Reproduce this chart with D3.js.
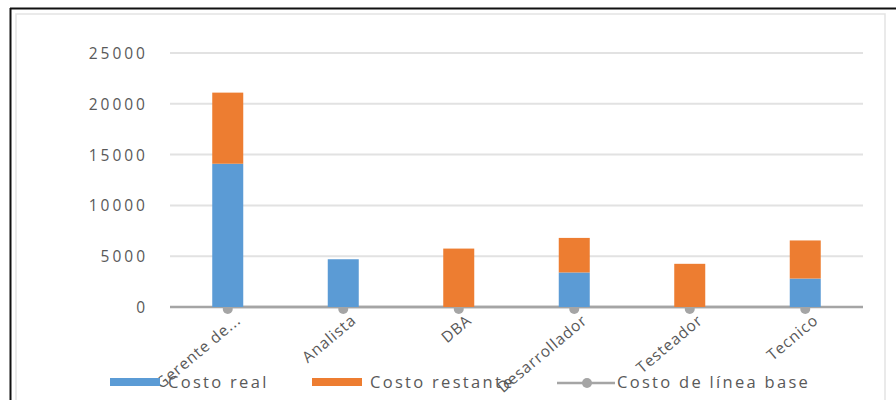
<!DOCTYPE html>
<html>
<head>
<meta charset="utf-8">
<script src="https://cdn.jsdelivr.net/npm/d3@7"></script>
<style>
  html, body { margin: 0; padding: 0; background: #fff; }
  svg { display: block; }
  text { font-family: "Open Sans", "Liberation Sans", sans-serif; fill: #595959; }
</style>
</head>
<body>
<svg id="chart" width="896" height="400"></svg>
<script>
const categories = ["Gerente de...", "Analista", "DBA", "Desarrollador", "Testeador", "Tecnico"];
const costoReal = [14100, 4700, 0, 3400, 0, 2800];
const costoRestante = [7000, 0, 5750, 3400, 4250, 3750];
const costoLineaBase = [0, 0, 0, 0, 0, 0];
const yTicks = [0, 5000, 10000, 15000, 20000, 25000];
const seriesNames = ["Costo real", "Costo restante", "Costo de línea base"];
const colors = ["#5b9bd5", "#ed7d31", "#a5a5a5"];

const svg = d3.select("#chart");
const W = 896, H = 400;

// frame
svg.append("rect").attr("x", 16).attr("y", 14).attr("width", 869).attr("height", 400)
  .attr("fill", "#fff").attr("stroke", "#e3e3e3").attr("stroke-width", 1.5);
svg.append("line").attr("x1", 10).attr("x2", W).attr("y1", 8.5).attr("y2", 8.5)
  .attr("stroke", "#111").attr("stroke-width", 2);
svg.append("line").attr("x1", 10.5).attr("x2", 10.5).attr("y1", 8).attr("y2", H)
  .attr("stroke", "#111").attr("stroke-width", 2);

const plot = { left: 170, right: 863, top: 53, bottom: 307 };

const x = d3.scaleBand().domain(categories).range([plot.left, plot.right]).paddingInner(0).paddingOuter(0);
const y = d3.scaleLinear().domain([0, 25000]).range([plot.bottom, plot.top]);
const barW = 31;

// gridlines
svg.append("g").selectAll("line").data(yTicks.filter(t => t > 0)).join("line")
  .attr("x1", plot.left).attr("x2", plot.right)
  .attr("y1", d => y(d)).attr("y2", d => y(d))
  .attr("stroke", "#e2e2e2").attr("stroke-width", 2);

// y axis labels
const yAxis = d3.axisLeft(y).tickValues(yTicks).tickSize(0).tickPadding(0).tickFormat(d3.format("d"));
const yg = svg.append("g").attr("transform", `translate(${plot.left - 22},0)`).call(yAxis);
yg.select(".domain").remove();
yg.selectAll("text").style("font-size", "15.5px").style("letter-spacing", "3px")
  .attr("fill", "#595959").attr("dy", "0.35em");

// baseline series (line + markers), drawn under bars
const cx = d => x(d) + x.bandwidth() / 2;
svg.append("line").attr("x1", plot.left).attr("x2", plot.right)
  .attr("y1", y(0)).attr("y2", y(0)).attr("stroke", "#a5a5a5").attr("stroke-width", 2.5);
const lineGen = d3.line().x((d, i) => cx(categories[i])).y(d => y(d));
svg.append("path").datum(costoLineaBase).attr("d", lineGen)
  .attr("fill", "none").attr("stroke", "#a5a5a5").attr("stroke-width", 2.5);
svg.append("g").selectAll("circle").data(costoLineaBase).join("circle")
  .attr("cx", (d, i) => cx(categories[i])).attr("cy", d => y(d) + 2)
  .attr("r", 5).attr("fill", "#a5a5a5");

// stacked bars
const rows = categories.map((c, i) => ({ cat: c, real: costoReal[i], restante: costoRestante[i] }));
const stack = d3.stack().keys(["real", "restante"])(rows);
svg.append("g").selectAll("g").data(stack).join("g")
  .attr("fill", (d, i) => colors[i])
  .selectAll("rect").data(d => d).join("rect")
  .attr("x", d => cx(d.data.cat) - barW / 2)
  .attr("width", barW)
  .attr("y", d => y(d[1]))
  .attr("height", d => y(d[0]) - y(d[1]));

// x labels
const xg = svg.append("g");
categories.forEach(c => {
  xg.append("text")
    .attr("transform", `translate(${cx(c) + 14},${plot.bottom + 15}) rotate(-40)`)
    .attr("text-anchor", "end")
    .style("font-size", "15.5px").style("letter-spacing", "0.9px")
    .text(c);
});

// legend
const legendY = 382;
const legendItems = [
  { name: seriesNames[0], color: colors[0], x: 110, type: "bar" },
  { name: seriesNames[1], color: colors[1], x: 312, type: "bar" },
  { name: seriesNames[2], color: colors[2], x: 557, type: "line" }
];
const lg = svg.append("g");
legendItems.forEach(it => {
  if (it.type === "bar") {
    lg.append("rect").attr("x", it.x).attr("y", legendY - 4).attr("width", 50).attr("height", 8).attr("fill", it.color);
  } else {
    lg.append("line").attr("x1", it.x).attr("x2", it.x + 58).attr("y1", legendY + 1).attr("y2", legendY + 1)
      .attr("stroke", it.color).attr("stroke-width", 2.5);
    lg.append("circle").attr("cx", it.x + 30).attr("cy", legendY + 1).attr("r", 5).attr("fill", it.color);
  }
  lg.append("text").attr("x", it.type === "bar" ? it.x + 58 : it.x + 60).attr("y", legendY).attr("dy", "0.35em")
    .style("font-size", "16.5px").style("letter-spacing", "2.3px")
    .text(it.name);
});
</script>
</body>
</html>
